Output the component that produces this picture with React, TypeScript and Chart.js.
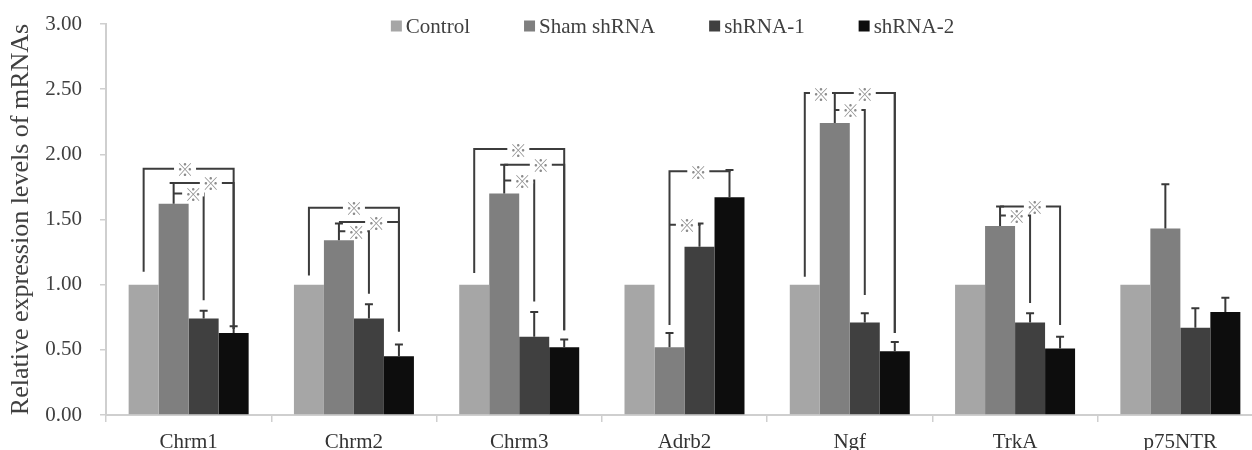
import React, { useEffect, useRef } from "react";
import { Chart, registerables } from "chart.js";

Chart.register(...registerables);

const categories = ["Chrm1", "Chrm2", "Chrm3", "Adrb2", "Ngf", "TrkA", "p75NTR"];
const seriesNames = ["Control", "Sham shRNA", "shRNA-1", "shRNA-2"];
const seriesColors = ["#a6a6a6", "#7f7f7f", "#404040", "#0d0d0d"];

const controlValues = [1.0, 1.0, 1.0, 1.0, 1.0, 1.0, 1.0];
const shamValues = [1.62, 1.34, 1.7, 0.52, 2.24, 1.45, 1.43];
const shrna1Values = [0.74, 0.74, 0.6, 1.29, 0.71, 0.71, 0.67];
const shrna2Values = [0.63, 0.45, 0.52, 1.67, 0.49, 0.51, 0.79];

const controlErrors = [0, 0, 0, 0, 0, 0, 0];
const shamErrors = [0.16, 0.13, 0.22, 0.11, 0.23, 0.15, 0.34];
const shrna1Errors = [0.06, 0.11, 0.19, 0.18, 0.07, 0.07, 0.15];
const shrna2Errors = [0.05, 0.09, 0.06, 0.21, 0.07, 0.09, 0.11];

const yTickValues = [0, 0.5, 1.0, 1.5, 2.0, 2.5, 3.0];
const yTitle = "Relative expression levels of mRNAs";
const markSymbol = "※";

// significance brackets: category, fromSeries, toSeries, level, leftLegEnd, rightLegEnd, markFraction
const bracketCategory = [0, 0, 0, 1, 1, 1, 2, 2, 2, 3, 3, 4, 4, 4, 5, 5];
const bracketFrom = [0, 1, 1, 0, 1, 1, 0, 1, 1, 1, 1, 0, 1, 1, 1, 1];
const bracketTo = [3, 3, 2, 3, 3, 2, 3, 3, 2, 3, 2, 3, 3, 2, 3, 2];
const bracketLevel = [1.89, 1.78, 1.7, 1.59, 1.48, 1.41, 2.04, 1.92, 1.8, 1.87, 1.46, 2.47, 2.47, 2.34, 1.6, 1.53];
const bracketLeftEnd = [1.1, 1.78, 1.7, 1.07, 1.48, 1.41, 1.09, 1.92, 1.8, 0.69, 1.46, 1.06, 2.47, 2.34, 1.6, 1.53];
const bracketRightEnd = [0.66, 0.66, 0.88, 0.64, 0.64, 0.93, 0.65, 0.65, 0.87, 1.88, 1.47, 0.63, 0.63, 0.92, 0.69, 0.86];
const bracketMark = [0.46, 0.62, 0.65, 0.5, 0.62, 0.58, 0.49, 0.61, 0.6, 0.48, 0.58, 0.18, 0.5, 0.52, 0.58, 0.56];

const SERIF = '"Liberation Serif", "Times New Roman", serif';

const allValues = [controlValues, shamValues, shrna1Values, shrna2Values];
const allErrors = [controlErrors, shamErrors, shrna1Errors, shrna2Errors];

const overlayPlugin = {
  id: "overlay",
  afterDatasetsDraw(chart: any) {
    const ctx = chart.ctx;
    const y = chart.scales.y;
    const px = (s: number, c: number) => chart.getDatasetMeta(s).data[c].x;
    ctx.save();
    // error bars
    ctx.strokeStyle = "#383838";
    ctx.lineWidth = 2;
    allErrors.forEach((errs, s) => {
      errs.forEach((e, c) => {
        if (!e) return;
        const x = px(s, c);
        const y0 = y.getPixelForValue(allValues[s][c]);
        const y1 = y.getPixelForValue(allValues[s][c] + e);
        ctx.beginPath();
        ctx.moveTo(x, y0);
        ctx.lineTo(x, y1);
        ctx.moveTo(x - 4, y1);
        ctx.lineTo(x + 4, y1);
        ctx.stroke();
      });
    });
    // bracket lines
    ctx.strokeStyle = "#3c3c3c";
    ctx.lineWidth = 2;
    const marks: { x: number; y: number }[] = [];
    bracketCategory.forEach((c, i) => {
      const xl = px(bracketFrom[i], c);
      const xr = px(bracketTo[i], c);
      const yl = y.getPixelForValue(bracketLevel[i]);
      const yle = y.getPixelForValue(bracketLeftEnd[i]);
      const yre = y.getPixelForValue(bracketRightEnd[i]);
      ctx.beginPath();
      ctx.moveTo(xl, yle);
      ctx.lineTo(xl, yl);
      ctx.lineTo(xr, yl);
      ctx.lineTo(xr, yre);
      ctx.stroke();
      marks.push({ x: xl + (xr - xl) * bracketMark[i], y: yl });
    });
    ctx.font = '17px "Noto Sans CJK JP", "DejaVu Sans", sans-serif';
    ctx.textAlign = "center";
    ctx.textBaseline = "middle";
    marks.forEach((m) => {
      ctx.fillStyle = "#ffffff";
      ctx.fillRect(m.x - 11, m.y - 3, 22, 6);
    });
    marks.forEach((m) => {
      ctx.fillStyle = "#8c8c8c";
      ctx.fillText(markSymbol, m.x, m.y + 1);
    });
    ctx.restore();
  },
  afterDraw(chart: any) {
    const ctx = chart.ctx;
    const area = chart.chartArea;
    ctx.save();
    ctx.font = `21px ${SERIF}`;
    ctx.textBaseline = "middle";
    ctx.textAlign = "left";
    const box = 11;
    const gapText = 4;
    const gapItem = 54;
    const widths = seriesNames.map((n) => ctx.measureText(n).width);
    const total = widths.reduce((a, w) => a + box + gapText + w, 0) + gapItem * (seriesNames.length - 1);
    let x = (area.left + area.right) / 2 - 12 - total / 2;
    const cy = 26;
    seriesNames.forEach((n, i) => {
      ctx.fillStyle = seriesColors[i];
      ctx.fillRect(x, cy - box / 2, box, box);
      ctx.fillStyle = "#404040";
      ctx.fillText(n, x + box + gapText, cy + 1);
      x += box + gapText + widths[i] + gapItem;
    });
    ctx.restore();
  },
};

export default function App() {
  const ref = useRef<HTMLCanvasElement | null>(null);
  useEffect(() => {
    if (!ref.current) return;
    const chart = new Chart(ref.current, {
      type: "bar",
      data: {
        labels: categories,
        datasets: seriesNames.map((name, i) => ({
          label: name,
          data: allValues[i],
          backgroundColor: seriesColors[i],
          borderWidth: 0,
          categoryPercentage: 0.726,
          barPercentage: 1.0,
        })),
      },
      options: {
        animation: false,
        responsive: false,
        devicePixelRatio: 1,
        layout: { padding: { top: 24, right: 0, bottom: 0, left: 0 } },
        plugins: {
          legend: { display: false },
          tooltip: { enabled: false },
        },
        scales: {
          x: {
            afterFit: (s: any) => {
              s.height = 35;
              s.paddingLeft = 0;
              s.paddingRight = 0;
            },
            grid: {
              display: true,
              drawOnChartArea: false,
              drawTicks: true,
              tickLength: 7,
              color: "#cfcfcf",
              lineWidth: 1.5,
            },
            border: { display: true, color: "#cfcfcf", width: 2 },
            ticks: {
              color: "#333333",
              font: { family: SERIF, size: 21 },
              padding: 8,
              maxRotation: 0,
            },
          },
          y: {
            min: 0,
            max: 3,
            afterFit: (s: any) => {
              s.width = 106;
              s.paddingTop = 0;
              s.paddingBottom = 0;
            },
            afterBuildTicks: (s: any) => {
              s.ticks = yTickValues.map((v) => ({ value: v }));
            },
            grid: {
              display: true,
              drawOnChartArea: false,
              drawTicks: true,
              tickLength: 6,
              color: "#cfcfcf",
              lineWidth: 1.5,
            },
            border: { display: true, color: "#cfcfcf", width: 2 },
            ticks: {
              color: "#404040",
              font: { family: SERIF, size: 21 },
              padding: 18,
              callback: (v: any) => Number(v).toFixed(2),
            },
            title: {
              display: true,
              text: yTitle,
              color: "#404040",
              font: { family: SERIF, size: 26 },
              padding: { top: 6, bottom: 0 },
            },
          },
        },
      },
      plugins: [overlayPlugin],
    });
    return () => chart.destroy();
  }, []);
  return (
    <div
      style={{
        position: "fixed",
        left: 0,
        top: 0,
        width: 1252,
        height: 450,
        overflow: "hidden",
        background: "#ffffff",
      }}
    >
      <canvas ref={ref} width={1263} height={450} style={{ display: "block" }} />
    </div>
  );
}
